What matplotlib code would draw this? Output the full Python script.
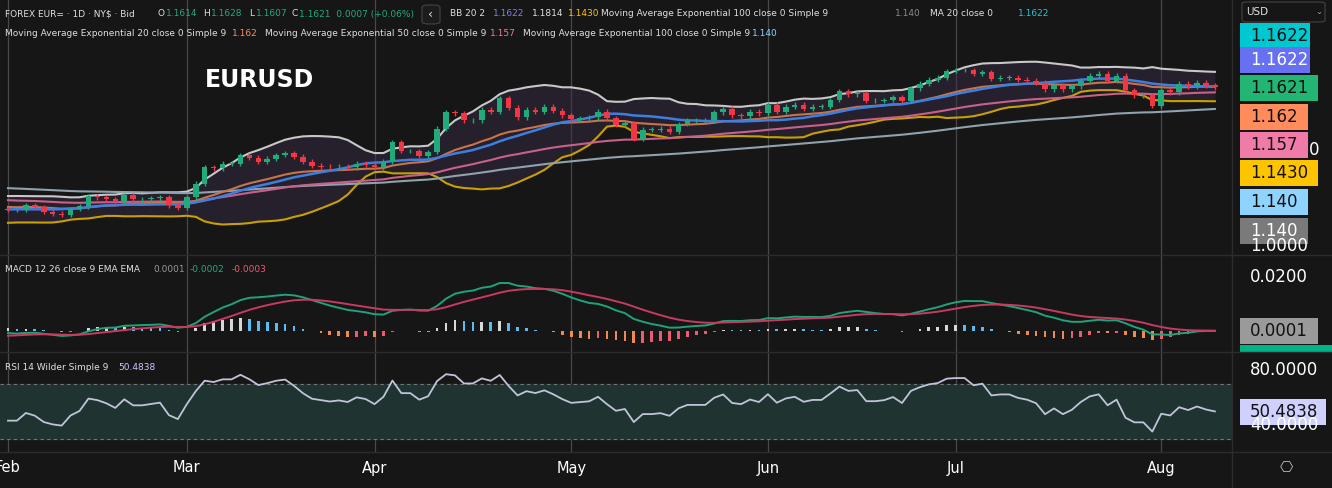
import numpy as np
import pandas as pd
import matplotlib
matplotlib.use("Agg")
import matplotlib.pyplot as plt

# ---- data ----
warmup = [1.093,1.073,1.080,1.080,1.072,1.066,1.062,1.056,1.053,1.054,1.060,1.054,1.047,1.047,1.042,1.049,1.051,1.056,1.055,1.058,
          1.050,1.051,1.051,1.058,1.057,1.055,1.053,1.050,1.047,1.050,1.051,1.049,1.050,1.037,1.035,1.043,1.040,1.041,1.040,1.042,1.043,1.035,
          1.026,1.031,1.041,1.039,1.035,1.030,1.024,1.024,1.030,1.029,1.027,1.030,1.041,1.041,1.042,1.049,1.043,1.043,1.041,1.036]
closes = [1.035,1.035,1.040,1.038,1.033,1.031,1.030,1.036,1.039,1.049,1.048,1.046,1.043,1.050,1.046,1.046,1.047,1.048,1.040,1.037,
          1.048,1.062,1.079,1.078,1.083,1.083,1.092,1.089,1.085,1.088,1.092,1.094,1.090,1.085,1.081,1.080,1.079,1.080,1.079,1.083,1.082,
          1.079,1.085,1.105,1.096,1.096,1.091,1.095,1.119,1.136,1.135,1.128,1.128,1.139,1.137,1.151,1.141,1.131,1.139,1.137,1.142,1.138,1.133,
          1.129,1.130,1.131,1.137,1.130,1.123,1.125,1.109,1.118,1.118,1.119,1.116,1.124,1.128,1.128,1.128,1.136,1.140,1.133,1.132,1.137,1.135,
          1.144,1.137,1.142,1.144,1.140,1.142,1.142,1.149,1.158,1.155,1.156,1.148,1.148,1.149,1.152,1.148,1.161,1.166,1.170,1.172,1.179,
          1.180,1.180,1.176,1.178,1.171,1.172,1.172,1.170,1.169,1.167,1.160,1.164,1.160,1.163,1.169,1.174,1.176,1.169,1.174,1.159,1.154,1.154,1.143,
          1.159,1.157,1.166,1.163,1.167,1.164,1.1621]
first_open = 1.036
wick = 0.0025
month_labels = ["Feb", "Mar", "Apr", "May", "Jun", "Jul", "Aug"]

dates = pd.bdate_range("2025-02-03", periods=len(closes))
allc = pd.Series(warmup + closes)
nW = len(warmup)

def ema(s, n): return s.ewm(span=n, adjust=False).mean()
ema20 = ema(allc, 20).values[nW:]
ema50 = ema(allc, 50).values[nW:]
ema100 = ema(allc, 100).values[nW:]
ma20 = allc.rolling(20).mean()
sd20 = allc.rolling(20).std(ddof=0)
bbu = (ma20 + 2*sd20).values[nW:]; bbl = (ma20 - 2*sd20).values[nW:]; ma20 = ma20.values[nW:]
macd = ema(allc, 12) - ema(allc, 26)
sig = ema(macd, 9)
hist = (macd - sig).values[nW:]; macdv = macd.values[nW:]; sigv = sig.values[nW:]
d = allc.diff()
up = d.clip(lower=0).ewm(alpha=1/14, adjust=False).mean()
dn = (-d.clip(upper=0)).ewm(alpha=1/14, adjust=False).mean()
rsi = (100 - 100/(1 + up/dn)).values[nW:]

c = np.array(closes)
o = np.r_[first_open, c[:-1]]
h = np.maximum(o, c) + wick
l = np.minimum(o, c) - wick
x = np.arange(len(c))

# ---- figure ----
W, H = 1332, 488
BG = "#161616"
fig = plt.figure(figsize=(W/100, H/100), dpi=100, facecolor=BG)
def ax_px(x0, y0, x1, y1):
    a = fig.add_axes([x0/W, 1-y1/H, (x1-x0)/W, (y1-y0)/H], facecolor=BG)
    for s in a.spines.values(): s.set_visible(False)
    a.set_xticks([]); a.set_yticks([])
    a.set_xlim(-8/8.94, (1232-8)/8.94)
    return a

px = 1.0/0.001036
axp = ax_px(0, 0, 1232, 255); axp.set_ylim(1.18-185/px, 1.18+70/px)
axm = ax_px(0, 255, 1232, 352); axm.set_ylim(-21/2700, 0.02+22/2700)
axr = ax_px(0, 352, 1232, 452); axr.set_ylim(40-27/1.375, 80+18/1.375)

mstarts = [i for i in range(len(dates)) if i == 0 or dates[i].month != dates[i-1].month]
for a in (axp, axm, axr):
    for i in mstarts:
        a.axvline(i, color="#484848", lw=0.9, zorder=0)

# price pane
axp.fill_between(x, bbl, bbu, color="#3a2e48", alpha=0.45, lw=0, zorder=1)
axp.plot(x, bbu, color="#c8c8c8", lw=1.5, zorder=2)
axp.plot(x, bbl, color="#c9a000", lw=1.5, zorder=2)
axp.plot(x, ema100, color="#8fa2ae", lw=1.5, zorder=2)
axp.plot(x, ema50, color="#c8608a", lw=1.5, zorder=2)
axp.plot(x, ema20, color="#c8744a", lw=1.5, zorder=2)
axp.plot(x, ma20, color="#3d7fe0", lw=1.8, zorder=3)
col = np.where(c >= o, "#22ab7a", "#f23645")
axp.vlines(x, l, h, colors=col, lw=1, zorder=4)
axp.bar(x, np.maximum(np.abs(c-o), 0.0004), bottom=np.minimum(o, c), width=0.62, color=col, zorder=5)
fig.text(205/W, 1-80/H, "EURUSD", fontsize=17, fontweight="bold", color="white", va="center", ha="left")

# MACD pane
hc = []
for i in range(len(hist)):
    prev = hist[i-1] if i else hist[i]
    if hist[i] >= 0: hc.append("#d8d8d8" if hist[i] >= prev else "#5bbcf0")
    else: hc.append("#f08a50" if hist[i] < prev else "#f05a70")
axm.bar(x, hist, width=0.3, color=hc, zorder=2)
axm.plot(x, macdv, color="#1fa37a", lw=1.4, zorder=3)
axm.plot(x, sigv, color="#c83a60", lw=1.4, zorder=3)

# RSI pane
axr.axhspan(30, 70, color="#1f3330", zorder=1)
axr.axhline(70, color="#777", lw=0.8, ls=(0, (3, 3)), zorder=2)
axr.axhline(30, color="#777", lw=0.8, ls=(0, (3, 3)), zorder=2)
axr.plot(x, rsi, color="#c0c4d8", lw=1.3, zorder=3)

# separators
for y in (255, 352, 452):
    fig.add_artist(plt.Line2D([0, 1], [1-y/H]*2, color="#2c2c2c", lw=1))
fig.add_artist(plt.Line2D([1232/W]*2, [0, 1], color="#2c2c2c", lw=1))

def T(xp, yp, s, color="#e0e0e0", size=6.5, **kw):
    fig.text(xp/W, 1-yp/H, s, color=color, fontsize=size, va="center", ha="left", **kw)

# header
T(5, 14, "FOREX EUR= · 1D · NY$ · Bid")
T(158, 14, "O"); T(166, 14, "1.1614", "#22ab7a")
T(203, 14, "H"); T(211, 14, "1.1628", "#22ab7a")
T(249, 14, "L"); T(256, 14, "1.1607", "#22ab7a")
T(291, 14, "C"); T(299, 14, "1.1621  0.0007 (+0.06%)", "#22ab7a")
fig.patches.append(matplotlib.patches.FancyBboxPatch((422/W, 1-24/H), 18/W, 19/H, boxstyle="round,pad=0,rounding_size=0.005",
                   transform=fig.transFigure, fc="#1c1c1c", ec="#444", lw=0.8))
T(428, 14, "‹", size=9)
T(450, 14, "BB 20 2"); T(493, 14, "1.1622", "#7b7ff0"); T(532, 14, "1.1814"); T(568, 14, "1.1430", "#ffc400")
T(601, 14, "Moving Average Exponential 100 close 0 Simple 9"); T(895, 14, "1.140", "#8a8a8a")
T(930, 14, "MA 20 close 0"); T(1018, 14, "1.1622", "#22c8d0")
T(5, 34, "Moving Average Exponential 20 close 0 Simple 9"); T(232, 34, "1.162", "#ff8c5a")
T(265, 34, "Moving Average Exponential 50 close 0 Simple 9"); T(490, 34, "1.157", "#f07aa8")
T(523, 34, "Moving Average Exponential 100 close 0 Simple 9"); T(752, 34, "1.140", "#8fd4ff")
T(5, 270, "MACD 12 26 close 9 EMA EMA"); T(153, 270, "0.0001", "#999"); T(190, 270, "-0.0002", "#22ab7a"); T(232, 270, "-0.0003", "#f05a70")
T(5, 367, "RSI 14 Wilder Simple 9"); T(118, 367, "50.4838", "#c8c8ff")

# time axis
for i, lab in zip(mstarts, month_labels):
    xp = 8 + 8.94*i
    fig.text(xp/W, 1-468/H, lab, color="white", fontsize=10.5, ha="center", va="center")

# right axis
fig.patches.append(matplotlib.patches.FancyBboxPatch((1242/W, 1-22/H), 83/W, 20/H, boxstyle="round,pad=0,rounding_size=0.004",
                   transform=fig.transFigure, fc="#161616", ec="#444", lw=0.8))
T(1246, 12, "USD", size=7.5); T(1315, 12, "⌄", "#aaa", size=6)
def badge(yp, s, fc, tc, w=80):
    fig.patches.append(matplotlib.patches.Rectangle((1240/W, 1-(yp+13)/H), w/W, 26/H, transform=fig.transFigure, fc=fc, ec="none"))
    T(1250, yp, s, tc, size=12)
T(1250, 246, "1.0000", "white", size=12)
T(1250, 425, "40.0000", "white", size=12)
T(1309, 150, "0", "white", size=12)
badge(36, "1.1622", "#00c8d0", "#111", 70)
badge(60, "1.1622", "#6670f0", "white", 70)
badge(88, "1.1621", "#22b573", "#111", 78)
badge(117, "1.162", "#ff8c5a", "#111", 68)
badge(145, "1.157", "#f07aa8", "#111", 68)
badge(173, "1.1430", "#ffc400", "#111", 78)
badge(202, "1.140", "#8fd4ff", "#111", 68)
badge(231, "1.140", "#7a7a7a", "white", 68)
T(1250, 277, "0.0200", "white", size=12)
badge(331, "0.0001", "#9a9a9a", "#111", 78)
fig.patches.append(matplotlib.patches.Rectangle((1240/W, 1-352/H), 92/W, 7/H, transform=fig.transFigure, fc="#00b386", ec="none"))
T(1250, 370, "80.0000", "white", size=12)
badge(412, "50.4838", "#d0d0ff", "#111", 86)
T(1280, 468, "⎔", "#bbb", size=11)

fig.savefig("out.png", dpi=100, facecolor=BG)
